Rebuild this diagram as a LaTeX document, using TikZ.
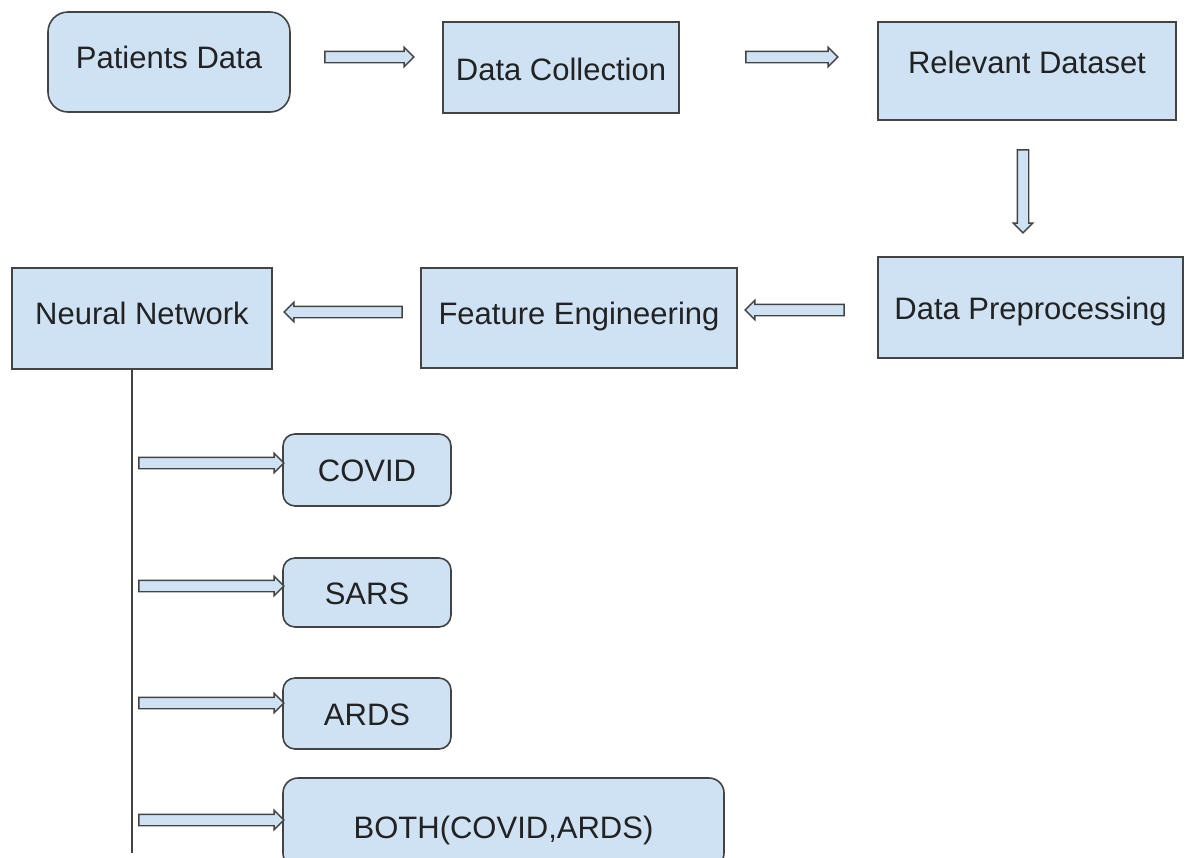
\documentclass[tikz,border=0pt]{standalone}
\usepackage{fontspec}
\setmainfont{Liberation Sans}
\usetikzlibrary{shapes.arrows, calc}
\definecolor{boxfill}{RGB}{207,226,243}
\definecolor{boxline}{RGB}{67,67,67}
\definecolor{txt}{RGB}{34,34,34}

\begin{document}
\begin{tikzpicture}[x=1pt, y=-1pt,
  box/.style={rectangle, draw=boxline, line width=1.6pt, fill=boxfill, text=txt,
              font=\fontsize{31}{37}\selectfont, inner sep=0pt, align=center,
              text height=30pt, text depth=7pt},
  roundbox/.style={box, rounded corners=#1},
  lift/.style={text depth=#1},
  drop/.style={text height=#1},
  blockarrow/.style={single arrow, draw=boxline, line width=1.4pt, fill=boxfill,
              inner sep=5pt, single arrow head extend=4pt},
  trunk/.style={draw=boxline, line width=1.4pt}
]
\clip (0,0) rectangle (1201,857);

% top row
\node[roundbox=20pt, lift=17pt, minimum width=242pt, minimum height=100pt] (pat) at (169,62) {Patients Data};
\node[box, drop=33pt, minimum width=236pt, minimum height=91pt] (col) at (561,67.5) {Data Collection};
\node[box, lift=25pt, minimum width=298pt, minimum height=98pt] (rel) at (1027,71) {Relevant Dataset};

% middle row
\node[box, minimum width=305pt, minimum height=101pt] (pre) at (1030.5,307.5) {Data Preprocessing};
\node[box, lift=17pt, minimum width=316pt, minimum height=100pt] (fea) at (579,318) {Feature Engineering};
\node[box, lift=19pt, minimum width=260pt, minimum height=101pt] (nn) at (142,318.5) {Neural Network};

% outputs
\node[roundbox=12pt, minimum width=168pt, minimum height=72pt] (covid) at (367,470) {COVID};
\node[roundbox=12pt, minimum width=168pt, minimum height=69pt] (sars) at (367,592.5) {SARS};
\node[roundbox=12pt, minimum width=168pt, minimum height=71pt] (ards) at (367,713.5) {ARDS};
\node[roundbox=15pt, drop=38pt, minimum width=441pt, minimum height=90pt] (both) at (503.5,823) {BOTH(COVID,ARDS)};

% block arrows
\node[blockarrow, minimum height=89pt] (a1) at (366.5,57) {};
\node[blockarrow, minimum height=92pt] (a2) at (789,57) {};
\node[blockarrow, minimum height=83pt, shape border rotate=270] (a3) at (1023,188.5) {};
\node[blockarrow, minimum height=99pt, shape border rotate=180] (a4) at (797.5,310) {};
\node[blockarrow, minimum height=118pt, shape border rotate=180] (a5) at (346,312) {};

% branches
\draw[trunk] ($(nn.south)+(-10,0)$) coordinate (top) -- ++(0,483) coordinate (bot);
\foreach \y/\n in {463/b1, 586/b2, 703/b3, 820/b4}
  \node[blockarrow, minimum height=145pt] (\n) at (208.5,\y) {};
\end{tikzpicture}
\end{document}
